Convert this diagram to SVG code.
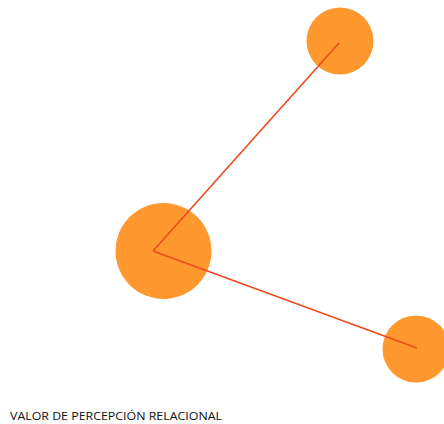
<svg xmlns="http://www.w3.org/2000/svg" width="444" height="424" viewBox="0 0 444 424">
<style>
.node{fill:#FF982E;}
.edge{stroke:#EE4A1E;stroke-width:1.6;fill:none;}
.label{font-family:"Open Sans","Liberation Sans",sans-serif;font-size:11.3px;fill:#111111;}
</style>
<rect width="444" height="424" fill="#ffffff"/>
<g id="node-center"><circle class="node" cx="163.5" cy="251" r="48"/></g>
<g id="node-top"><circle class="node" cx="340" cy="41" r="33.5"/></g>
<g id="node-bottom"><circle class="node" cx="416" cy="349" r="33.5"/></g>
<g id="connectors">
<line class="edge" x1="153" y1="251" x2="339" y2="43"/>
<line class="edge" x1="153" y1="251" x2="417" y2="348"/>
</g>
<text class="label" x="10" y="419.5" textLength="212" lengthAdjust="spacingAndGlyphs">VALOR DE PERCEPCIÓN RELACIONAL</text>
</svg>
